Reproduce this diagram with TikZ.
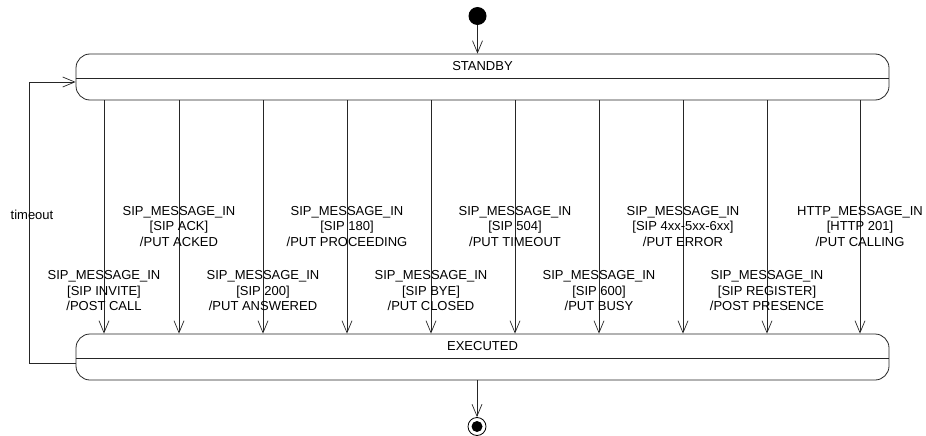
\documentclass[tikz,border=0pt]{standalone}
\usepackage{fontspec}
\setmainfont{Liberation Sans}
\usetikzlibrary{arrows.meta}
\begin{document}
\begin{tikzpicture}[x=1pt,y=-1pt,
  state/.style={draw=black!85, line width=0.8pt, rounded corners=14pt,
    minimum width=813pt, minimum height=46pt, inner sep=0pt},
  statename/.style={font=\fontsize{13}{15.5}\selectfont, inner sep=0pt},
  divider/.style={draw=black!85, line width=0.8pt},
  trans/.style={draw=black!85, line width=0.7pt,
    -{Straight Barb[length=12pt,width=10pt,line width=0.7pt]}},
  guard/.style={align=center, font=\fontsize{13}{15.5}\selectfont, inner sep=0pt},
]
\useasboundingbox (0,0) rectangle (926,436);

% states
\node[state] (standby) at (482.5,77) {};
\node[statename] (standbyname) at (482.5,66) {STANDBY};
\draw[divider] (standby.west |- 0,78) -- (standby.east |- 0,78);

\node[state] (executed) at (482.5,357) {};
\node[statename] (executedname) at (482.5,346) {EXECUTED};
\draw[divider] (executed.west |- 0,358) -- (executed.east |- 0,358);

% pseudo states
\node[circle, fill=black, minimum size=18pt, inner sep=0pt] (init) at (477.5,16) {};
\node[circle, draw=black, line width=0.8pt, minimum size=18pt, inner sep=0pt] (final) at (477,426.5) {};
\fill (final.center) circle (5.5pt);

\draw[trans] (init) -- (standby.north -| init);
\draw[trans] (executed.south -| final) -- (final.north);

% transition columns
\foreach \name/\x in {t1/104, t2/179, t3/263, t4/347, t5/431,
                      t6/515, t7/599, t8/683, t9/767, t10/860} {
  \coordinate (\name) at (\x,200);
  \draw[trans] (standby.south -| \name) -- (executed.north -| \name);
}

% guards, upper row
\node[guard] (g2)  at (179,226.5) {SIP\_MESSAGE\_IN\\{[SIP ACK]}\\/PUT ACKED};
\node[guard] (g4)  at (347,226.5) {SIP\_MESSAGE\_IN\\{[SIP 180]}\\/PUT PROCEEDING};
\node[guard] (g6)  at (515,226.5) {SIP\_MESSAGE\_IN\\{[SIP 504]}\\/PUT TIMEOUT};
\node[guard] (g8)  at (683,226.5) {SIP\_MESSAGE\_IN\\{[SIP 4xx-5xx-6xx]}\\/PUT ERROR};
\node[guard] (g10) at (860,226.5) {HTTP\_MESSAGE\_IN\\{[HTTP 201]}\\/PUT CALLING};

% guards, lower row
\node[guard] (g1) at (104,291) {SIP\_MESSAGE\_IN\\{[SIP INVITE]}\\/POST CALL};
\node[guard] (g3) at (263,291) {SIP\_MESSAGE\_IN\\{[SIP 200]}\\/PUT ANSWERED};
\node[guard] (g5) at (431,291) {SIP\_MESSAGE\_IN\\{[SIP BYE]}\\/PUT CLOSED};
\node[guard] (g7) at (599,291) {SIP\_MESSAGE\_IN\\{[SIP 600]}\\/PUT BUSY};
\node[guard] (g9) at (767,291) {SIP\_MESSAGE\_IN\\{[SIP REGISTER]}\\/POST PRESENCE};

% timeout loop back to STANDBY
\coordinate (loopx) at (29.5,220);
\draw[trans] ([yshift=-6pt]executed.west) -| (loopx) |- ([yshift=-5pt]standby.west);
\node[guard] (timeoutlabel) at (32,215) {timeout};

\end{tikzpicture}
\end{document}
